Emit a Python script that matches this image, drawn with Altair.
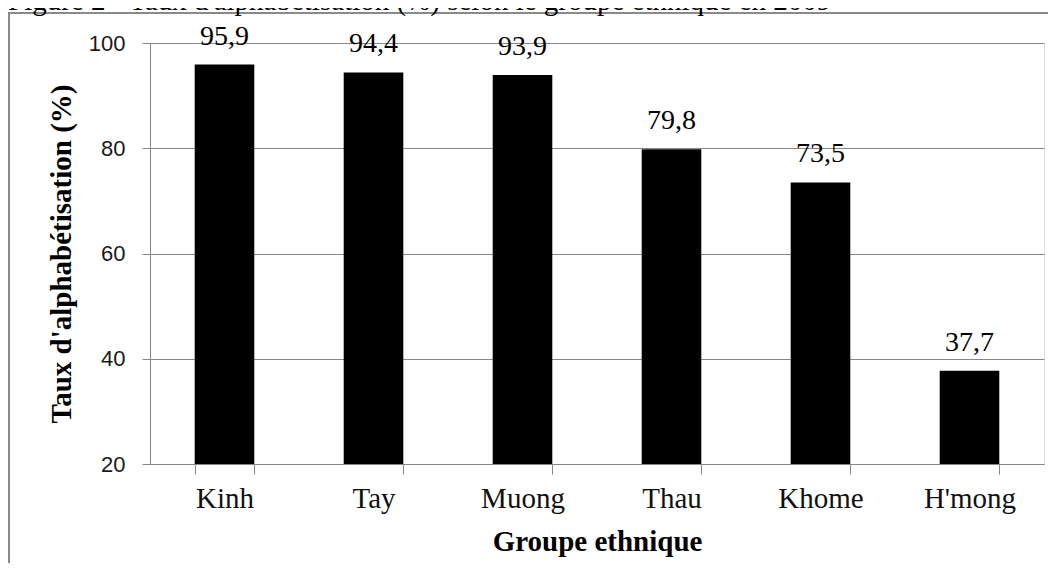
import altair as alt
import pandas as pd

title_text = "Figure 2 - Taux d'alphabétisation (%) selon le groupe ethnique en 2009"
groups = ["Kinh", "Tay", "Muong", "Thau", "Khome", "H'mong"]
values = [95.9, 94.4, 93.9, 79.8, 73.5, 37.7]
y_ticks = [20, 40, 60, 80, 100]

df = pd.DataFrame({"groupe": groups, "taux": values})
df["label"] = [f"{v:.1f}".replace(".", ",") for v in values]

SERIF = "Liberation Serif"
GRAY = "#878787"

x_enc = alt.X(
    "groupe:N",
    sort=groups,
    scale=alt.Scale(paddingInner=0.6, paddingOuter=0.3),
    axis=alt.Axis(
        title="Groupe ethnique",
        labelAngle=0,
        labelFont=SERIF,
        labelFontSize=29,
        labelColor="#111111",
        labelBaseline="alphabetic",
        labelPadding=33,
        tickSize=10,
        tickBand="extent",
        tickColor=GRAY,
        domainColor=GRAY,
        titleFont=SERIF,
        titleFontSize=29,
        titleFontWeight="bold",
        titleColor="#000000",
        titleBaseline="alphabetic",
        titleY=86,
        grid=False,
    ),
)

y_scale = alt.Scale(domain=[20, 100], nice=False, zero=False)
y_enc = alt.Y(
    "taux:Q",
    scale=y_scale,
    axis=alt.Axis(
        title="Taux d'alphabétisation (%)",
        values=y_ticks,
        labelFont="Liberation Sans",
        labelFontSize=22,
        labelColor="#1a1a1a",
        labelPadding=17,
        tickSize=8,
        tickColor=GRAY,
        domainColor=GRAY,
        gridColor=GRAY,
        gridWidth=1,
        titleFont=SERIF,
        titleFontSize=29,
        titleFontWeight="bold",
        titleColor="#000000",
        titleBaseline="alphabetic",
        titleAngle=-90,
        titleX=-80,
        titleY=210.5,
    ),
)

base = alt.Chart(df)

bars = base.mark_bar(color="#000000").encode(
    x=x_enc,
    y=y_enc,
    y2=alt.datum(20),
)

labels = base.mark_text(
    font=SERIF, fontSize=28, color="#000000", baseline="alphabetic", dy=-20
).encode(
    x=alt.X("groupe:N", sort=groups),
    y=alt.Y("taux:Q", scale=y_scale),
    text="label:N",
)

one = pd.DataFrame({"t": [title_text]})
frame_left = alt.Chart(one).mark_rule(color="#8a8a8a", strokeWidth=2).encode(
    x=alt.value(-141), y=alt.value(-31), y2=alt.value(560)
)
frame_top = alt.Chart(one).mark_rule(color="#8a8a8a", strokeWidth=2).encode(
    x=alt.value(-142), x2=alt.value(898), y=alt.value(-30)
)

title = alt.Chart(one).mark_text(
    font=SERIF, fontSize=29, color="#000000", align="left", baseline="alphabetic"
).encode(
    x=alt.value(-142), y=alt.value(-33), text="t:N"
)

chart = alt.layer(frame_left, frame_top, title, bars, labels).properties(
    width=894,
    height=421,
    autosize=alt.AutoSizeParams(type="none"),
    padding={"left": 142, "top": 35, "right": 4, "bottom": 99},
).configure_view(stroke=None).configure(background="#ffffff")

chart.save("out.html", embed_options={"renderer": "svg", "actions": False})
